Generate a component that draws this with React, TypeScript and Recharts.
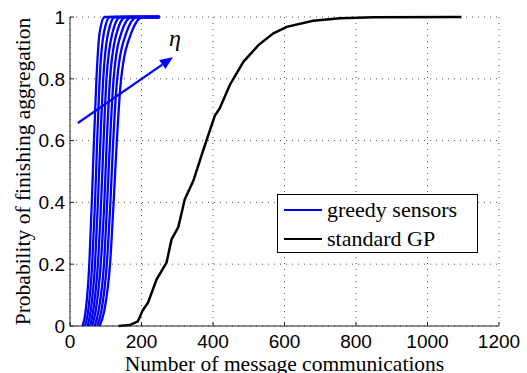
import { LineChart, Line, XAxis, YAxis, CartesianGrid, ReferenceLine } from 'recharts';

// probability levels shared by the greedy-sensor curves
const greedyLevels = [0, 0.05, 0.2, 0.4, 0.6, 0.8, 0.95, 1, 1];

// message counts at which each greedy curve reaches those levels (eta increasing)
const greedyCurves = [
  [35, 44, 54, 61, 67, 74, 83, 97, 250],
  [42, 51, 62, 70, 76, 83, 95, 112, 250],
  [49, 58, 70, 78, 85, 93, 107, 126, 250],
  [56, 65, 78, 87, 94, 102, 119, 141, 250],
  [62, 72, 86, 96, 103, 112, 131, 156, 250],
  [69, 80, 95, 104, 112, 122, 144, 172, 250],
  [76, 88, 103, 113, 121, 132, 158, 188, 250],
  [83, 96, 112, 122, 131, 143, 172, 204, 250],
];

const gpX = [136, 167, 190, 203, 218, 242, 270, 284, 303, 321, 345, 373, 405, 419, 447, 485, 527, 569, 606, 680, 755, 850, 1095];
const gpY = [0, 0.003, 0.015, 0.05, 0.075, 0.15, 0.205, 0.28, 0.32, 0.41, 0.47, 0.57, 0.68, 0.705, 0.78, 0.855, 0.909, 0.947, 0.968, 0.988, 0.996, 0.999, 1];

const xTicks = [0, 200, 400, 600, 800, 1000, 1200];
const yTicks = [0, 0.2, 0.4, 0.6, 0.8, 1];

const arrowStart = { x: 22, y: 0.657 };
const arrowEnd = { x: 288, y: 0.87 };

const greedyData = greedyCurves.map((xs) => xs.map((x, i) => ({ x, y: greedyLevels[i] })));
const gpData = gpX.map((x, i) => ({ x, y: gpY[i] }));

const BLUE = '#0000ff';
const sans = "'Liberation Sans', Arial, sans-serif";
const serif = "'Liberation Serif', 'Times New Roman', serif";

function Arrow(props: any) {
  const { x1, y1, x2, y2 } = props;
  const ang = Math.atan2(y2 - y1, x2 - x1);
  const len = 13;
  const half = 5.5;
  const bx = x2 - len * Math.cos(ang);
  const by = y2 - len * Math.sin(ang);
  const px = -Math.sin(ang) * half;
  const py = Math.cos(ang) * half;
  return (
    <g>
      <line x1={x1} y1={y1} x2={bx} y2={by} stroke={BLUE} strokeWidth={2.2} />
      <polygon points={`${x2},${y2} ${bx + px},${by + py} ${bx - px},${by - py}`} fill={BLUE} />
      <text x={x2 - 4} y={y2 - 11} fontFamily={serif} fontStyle="italic" fontSize={24} fill="#000">
        η
      </text>
    </g>
  );
}

function LegendBox() {
  const row = (color: string, label: string) => (
    <div style={{ display: 'flex', alignItems: 'center', height: 29 }}>
      <div style={{ width: 38, height: 0, borderTop: `2.5px solid ${color}`, marginRight: 5 }} />
      <span style={{ fontFamily: serif, fontSize: 22, color: '#000', lineHeight: '29px' }}>{label}</span>
    </div>
  );
  return (
    <div
      style={{
        position: 'absolute',
        left: 277,
        top: 194,
        border: '1.5px solid #000',
        background: '#fff',
        width: 193,
        height: 57,
        padding: '0 0 0 6px',
        boxSizing: 'content-box',
      }}
    >
      {row(BLUE, 'greedy sensors')}
      {row('#000', 'standard GP')}
    </div>
  );
}

export default function App() {
  return (
    <div style={{ position: 'absolute', left: 0, top: 0, width: 527, height: 373, background: '#fff' }}>
      <LineChart width={527} height={373} margin={{ top: 17, right: 28, bottom: 0, left: 0 }}>
        <CartesianGrid stroke="#555" strokeDasharray="1 5" strokeWidth={1} />
        <XAxis
          dataKey="x"
          type="number"
          domain={[0, 1200]}
          ticks={xTicks}
          allowDataOverflow
          height={47}
          axisLine={{ stroke: '#222', strokeWidth: 1 }}
          tickLine={{ stroke: '#222' }}
          tickSize={-4}
          tickMargin={13}
          tick={{ fontSize: 19, fill: '#000', fontFamily: sans }}
          label={{
            value: 'Number of message communications',
            position: 'insideBottom',
            offset: 2,
            style: { fontSize: 21.5, fill: '#000', fontFamily: serif },
          }}
        />
        <YAxis
          type="number"
          domain={[0, 1]}
          ticks={yTicks}
          width={70}
          axisLine={{ stroke: '#222', strokeWidth: 1 }}
          tickLine={{ stroke: '#222' }}
          tickSize={-4}
          tickMargin={9}
          tick={{ fontSize: 19, fill: '#000', fontFamily: sans }}
          label={{
            value: 'Probability of finishing aggregation',
            angle: -90,
            position: 'insideLeft',
            offset: 22,
            style: { fontSize: 21.5, fill: '#000', fontFamily: serif, textAnchor: 'middle' },
          }}
        />
        {greedyData.map((d, i) => (
          <Line
            key={i}
            data={d}
            dataKey="y"
            type="monotone"
            stroke={BLUE}
            strokeWidth={2.3}
            dot={false}
            isAnimationActive={false}
          />
        ))}
        <Line
          data={gpData}
          dataKey="y"
          type="linear"
          stroke="#000"
          strokeWidth={2.5}
          dot={false}
          isAnimationActive={false}
        />
        <ReferenceLine segment={[arrowStart, arrowEnd]} shape={Arrow} />
      </LineChart>
      <LegendBox />
    </div>
  );
}
